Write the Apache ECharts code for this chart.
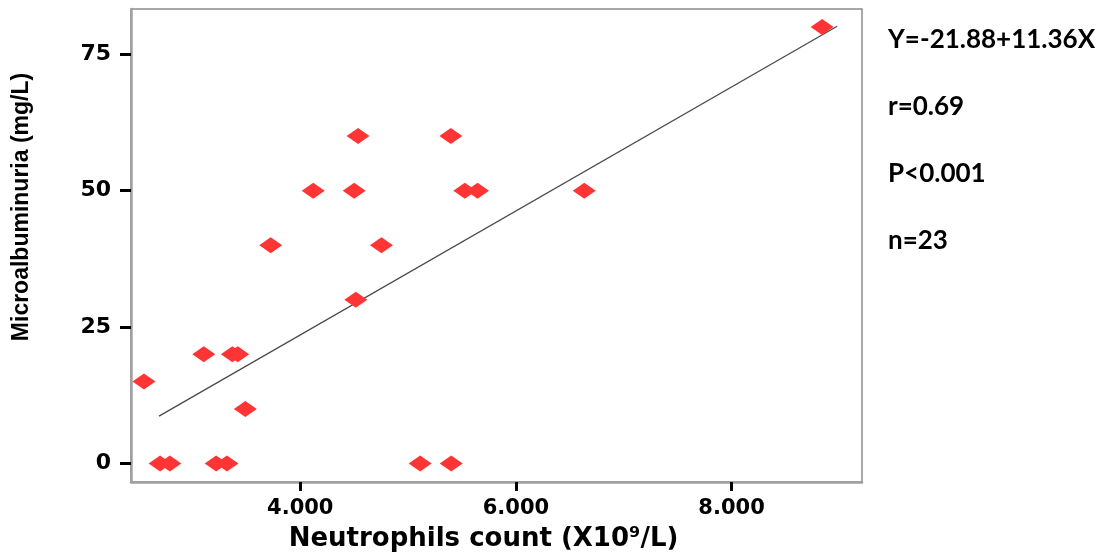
<!DOCTYPE html>
<html><head><meta charset="utf-8">
<script src="https://cdn.jsdelivr.net/npm/echarts@6/dist/echarts.min.js"></script>
<style>html,body{margin:0;padding:0;background:#fff}#c{width:1100px;height:557px}</style>
</head><body><div id="c"></div>
<script>
// Data
const neutrophils = [2.55, 2.70, 2.79, 3.105, 3.22, 3.32, 3.37, 3.42, 3.49, 3.726, 4.12, 4.50, 4.536, 4.515, 4.753, 5.112, 5.396, 5.40, 5.526, 5.644, 6.634, 8.84];
const microalb    = [15,   0,    0,    20,    0,    0,    20,   20,   10,   40,    50,   50,   60,    30,    40,    0,     60,    0,    50,    50,    50,    80];
const xTicks = [4, 6, 8];
const yTicks = [0, 25, 50, 75];
const fitIntercept = -21.88;
const fitSlope = 11.36;
const fitXRange = [2.69, 8.98];
const statLines = ["Y=-21.88+11.36X", "r=0.69", "P<0.001", "n=23"];

const chart = echarts.init(document.getElementById('c'), null, {renderer: 'canvas'});
const points = neutrophils.map((x, i) => [x, microalb[i]]);
const fitLine = fitXRange.map(x => [x, fitIntercept + fitSlope * x]);

chart.setOption({
  animation: false,
  backgroundColor: '#ffffff',
  grid: {left: 131, right: 238, top: 9, bottom: 75, show: true, borderColor: '#8c8c8c', borderWidth: 1.5, outerBoundsMode: 'none'},
  xAxis: {
    type: 'value', min: 2.43, max: 9.21,
    splitLine: {show: false},
    axisLine: {show: true, onZero: false, lineStyle: {color: '#a0a0a0', width: 2.5}},
    axisTick: {show: true, customValues: xTicks, length: 9, lineStyle: {color: '#000', width: 3}},
    axisLabel: {customValues: xTicks, margin: 16, color: '#000', fontFamily: 'DejaVu Sans', fontWeight: 'bold', fontSize: 21,
      formatter: v => v.toFixed(3)},
    name: 'Neutrophils count (X10⁹/L)', nameLocation: 'middle', nameGap: 44,
    nameTextStyle: {color: '#000', fontFamily: 'DejaVu Sans', fontWeight: 'bold', fontSize: 26, padding: [0, 26, 0, 0]}
  },
  yAxis: {
    type: 'value', min: -3.4, max: 83.3,
    splitLine: {show: false},
    axisLine: {show: true, onZero: false, lineStyle: {color: '#a0a0a0', width: 2.5}},
    axisTick: {show: true, customValues: yTicks, length: 11, lineStyle: {color: '#000', width: 3}},
    axisLabel: {customValues: yTicks, margin: 20, color: '#000', fontFamily: 'DejaVu Sans', fontWeight: 'bold', fontSize: 22}
  },
  graphic: [
    {type: 'text', x: 22, y: 207, rotation: Math.PI / 2,
      style: {text: 'Microalbuminuria (mg/L)', fill: '#000', font: 'bold 23px "Liberation Sans"', align: 'center', verticalAlign: 'middle'}}
  ].concat(statLines.map((t, i) => ({
    type: 'text', left: 888, top: 27 + i * 67,
    style: {text: t, fill: '#000', font: 'bold 26px Lato'}
  }))),
  series: [
    {type: 'line', data: fitLine, symbol: 'none', silent: true, z: 1,
      lineStyle: {color: '#4a4a4a', width: 1.3}},
    {type: 'scatter', data: points, symbol: 'diamond', symbolSize: [23, 16], z: 2,
      itemStyle: {color: '#ff3434', opacity: 1}}
  ]
});
</script></body></html>
